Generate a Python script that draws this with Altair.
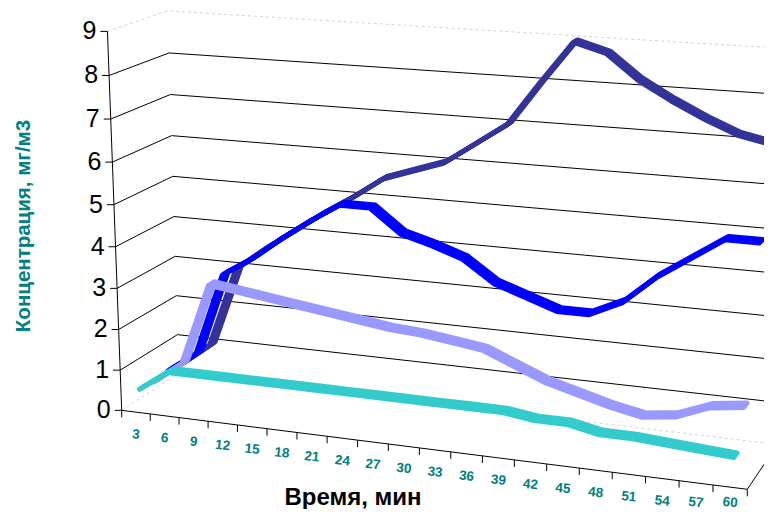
import altair as alt
import pandas as pd

# --- values ---
times = list(range(3, 63, 3))
teal = [0.5, 1.0, 1.0, 1.0, 1.0, 1.0, 1.0, 1.0, 1.0, 1.0, 1.0, 1.0, 1.0, 0.9, 0.9, 0.75, 0.75, 0.7, 0.65, 0.6]
periwinkle = [0.45, 1.0, 3.0, 2.9, 2.8, 2.7, 2.6, 2.5, 2.4, 2.35, 2.25, 2.15, 1.85, 1.55, 1.35, 1.15, 1.0, 1.1, 1.4, 1.5]
blue = [0.5, 1.0, 3.05, 3.5, 4.05, 4.55, 5.0, 5.0, 4.45, 4.25, 4.0, 3.5, 3.25, 3.0, 3.0, 3.35, 4.0, 4.5, 5.0, 5.0]
navy = [0.45, 1.0, 3.0, 3.55, 4.05, 4.55, 5.0, 5.5, 5.75, 6.0, 6.5, 7.0, 8.0, 8.95, 8.75, 8.2, 7.8, 7.45, 7.15, 7.0]
value_ticks = list(range(0, 10))
x_title = "Время, мин"
y_title = "Концентрация, мг/м3"

# --- perspective camera: (slot, value, depth) -> page position ---
H = [27.839325, -2.188817, 65.65032, 121.701677, 1.695119, -42.282903, -18.934382,
     410.356851, -0.004601, -0.005609, 0.048984]

def project(u, v, d):
    w = H[8] * u + H[9] * v + H[10] * d + 1
    return ((H[0] * u + H[1] * v + H[2] * d + H[3]) / w,
            (H[4] * u + H[5] * v + H[6] * d + H[7]) / w)

U_MAX = 20
SWEEP = [-0.055, -0.0275, 0, 0.0275, 0.055]
series_defs = [
    # name, values, colour, depth slot
    ("navy", navy, "#333399", 0.875),
    ("blue", blue, "#0000FF", 0.625),
    ("periwinkle", periwinkle, "#9999FF", 0.375),
    ("teal", teal, "#33CCCC", 0.125),
]

X = alt.X("x:Q", axis=None, scale=alt.Scale(domain=[8, 764], nice=False, zero=False))
Y = alt.Y("y:Q", axis=None, scale=alt.Scale(domain=[509, 8], nice=False, zero=False))

def segments(rows, color, width, dash=None):
    df = pd.DataFrame(
        [{"id": k, "p": p, "x": x, "y": y} for k, path in enumerate(rows) for p, (x, y) in enumerate(path)]
    )
    extra = {"strokeDash": dash} if dash else {}
    return alt.Chart(df).mark_line(color=color, strokeWidth=width, clip=True, **extra).encode(
        x=X, y=Y, detail="id:N", order="p:Q"
    )

# walls and floor
grid = []
for v in value_ticks[1:-1]:
    grid.append([project(0, v, 0), project(0, v, 1), project(U_MAX, v, 1)])
frame_light = [
    [project(0, 9, 0), project(0, 9, 1), project(U_MAX, 9, 1)],
    [project(0, 0, 0), project(0, 0, 1), project(U_MAX, 0, 1)],
]
frame_black = [
    [project(0, 0, 0), project(0, 9, 0)],
    [project(0, 0, 0), project(U_MAX, 0, 0), project(U_MAX, 0, 1)],
]
ticks = []
for k in range(U_MAX + 1):
    px, py = project(k, 0, 0)
    ticks.append([(px, py), (px, py + 7)])
for v in value_ticks:
    px, py = project(0, v, 0)
    ticks.append([(px - 7, py), (px, py)])

layers = [
    segments(frame_light, "#D4D4D4", 1, [3, 3]),
    segments(grid, "#000000", 1),
    segments(frame_black, "#000000", 1),
    segments(ticks, "#000000", 1),
]

# ribbon lines
for name, vals, color, depth in series_defs:
    rows = []
    for k, off in enumerate(SWEEP):
        for i, val in enumerate(vals):
            px, py = project(i + 0.5, val, depth + off)
            rows.append({
                "series": name, "time": times[i], "value": val, "copy": k, "p": i, "x": px, "y": py,
            })
    layers.append(
        alt.Chart(pd.DataFrame(rows)).mark_line(
            color=color, strokeWidth=4.8, strokeJoin="round", strokeCap="round", clip=True
        ).encode(x=X, y=Y, detail="copy:N", order="p:Q")
    )

# tick labels (the lowest ones are held just inside the page)
xl = pd.DataFrame([
    {"t": str(t), "x": project(i + 0.5, 0, 0)[0],
     "y": min(project(i + 0.5, 0, 0)[1] + 22.5, 502.5)}
    for i, t in enumerate(times)
])
layers.append(
    alt.Chart(xl).mark_text(
        font="Liberation Sans", fontSize=13.5, fontWeight="bold", color="#008080",
        angle=6, align="center", baseline="middle"
    ).encode(x=X, y=Y, text="t:N")
)
yl = pd.DataFrame([
    {"t": str(v), "x": project(0, v, 0)[0], "y": project(0, v, 0)[1]} for v in value_ticks
])
layers.append(
    alt.Chart(yl).mark_text(
        font="Liberation Sans", fontSize=25, color="#000000",
        dx=-11, align="right", baseline="middle"
    ).encode(x=X, y=Y, text="t:N")
)

# titles
layers.append(
    alt.Chart(pd.DataFrame({"t": [y_title]})).mark_text(
        font="Liberation Sans", fontSize=20.5, fontWeight="bold", color="#008080",
        angle=270, align="center", baseline="middle"
    ).encode(x=alt.value(16), y=alt.value(218), text="t:N")
)
layers.append(
    alt.Chart(pd.DataFrame({"t": [x_title]})).mark_text(
        font="Liberation Sans", fontSize=24, fontWeight="bold", color="#000000",
        align="center", baseline="alphabetic"
    ).encode(x=alt.value(345), y=alt.value(497), text="t:N")
)

chart = alt.layer(*layers).properties(
    width=756, height=501, padding=0, autosize=alt.AutoSizeParams(type="none"), background="white"
).configure_view(stroke=None)

chart.save("out.html", embed_options={"renderer": "svg", "actions": False})
